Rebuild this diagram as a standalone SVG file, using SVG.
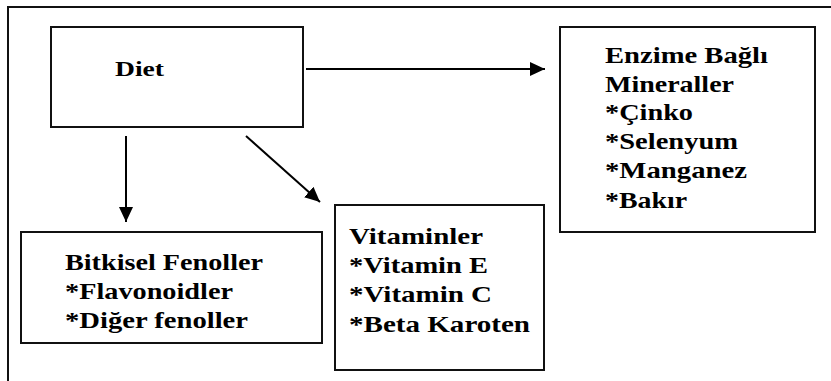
<svg xmlns="http://www.w3.org/2000/svg" width="831" height="381" viewBox="0 0 831 381">
<style>
.box{fill:#fff;stroke:#111;stroke-width:2}
.c{stroke:#000;stroke-width:2;fill:none}
</style>
<defs>
<marker id="ah" markerUnits="userSpaceOnUse" markerWidth="16" markerHeight="14" refX="15" refY="7" orient="auto">
<path d="M0,0 L15,7 L0,14 z" fill="#000"/>
</marker>
</defs>
<rect width="831" height="381" fill="#fff"/>
<path d="M8,381 V7 H831" fill="none" stroke="#111" stroke-width="2"/>
<g font-family="Liberation Serif, DejaVu Serif, serif" font-weight="bold" font-size="24" fill="#000">
<g id="diet">
<rect class="box" x="51" y="27" width="252" height="100"/>
<text x="115" y="76" font-size="22" textLength="49" lengthAdjust="spacingAndGlyphs">Diet</text>
</g>
<g id="enzime">
<rect class="box" x="560" y="27" width="255" height="205"/>
<text x="605" y="63" textLength="163" lengthAdjust="spacingAndGlyphs">Enzime Bağlı</text>
<text x="605" y="92" textLength="129" lengthAdjust="spacingAndGlyphs">Mineraller</text>
<text x="605" y="120" textLength="88" lengthAdjust="spacingAndGlyphs">*Çinko</text>
<text x="605" y="149" textLength="133" lengthAdjust="spacingAndGlyphs">*Selenyum</text>
<text x="605" y="178" textLength="142" lengthAdjust="spacingAndGlyphs">*Manganez</text>
<text x="605" y="208" textLength="82" lengthAdjust="spacingAndGlyphs">*Bakır</text>
</g>
<g id="bitkisel">
<rect class="box" x="21" y="232" width="301" height="111"/>
<text x="65" y="270" textLength="198" lengthAdjust="spacingAndGlyphs">Bitkisel Fenoller</text>
<text x="65" y="299" textLength="168" lengthAdjust="spacingAndGlyphs">*Flavonoidler</text>
<text x="65" y="328" textLength="183" lengthAdjust="spacingAndGlyphs">*Diğer fenoller</text>
</g>
<g id="vitaminler">
<rect class="box" x="335" y="205" width="209" height="165"/>
<text x="349" y="244" textLength="134" lengthAdjust="spacingAndGlyphs">Vitaminler</text>
<text x="349" y="273" textLength="139" lengthAdjust="spacingAndGlyphs">*Vitamin E</text>
<text x="349" y="302" textLength="143" lengthAdjust="spacingAndGlyphs">*Vitamin C</text>
<text x="349" y="332" textLength="181" lengthAdjust="spacingAndGlyphs">*Beta Karoten</text>
</g>
</g>
<g id="connectors">
<line class="c" x1="306" y1="69" x2="545" y2="69" marker-end="url(#ah)"/>
<line class="c" x1="126" y1="136" x2="126" y2="222" marker-end="url(#ah)"/>
<line class="c" x1="246" y1="136" x2="320" y2="202" marker-end="url(#ah)"/>
</g>
</svg>
